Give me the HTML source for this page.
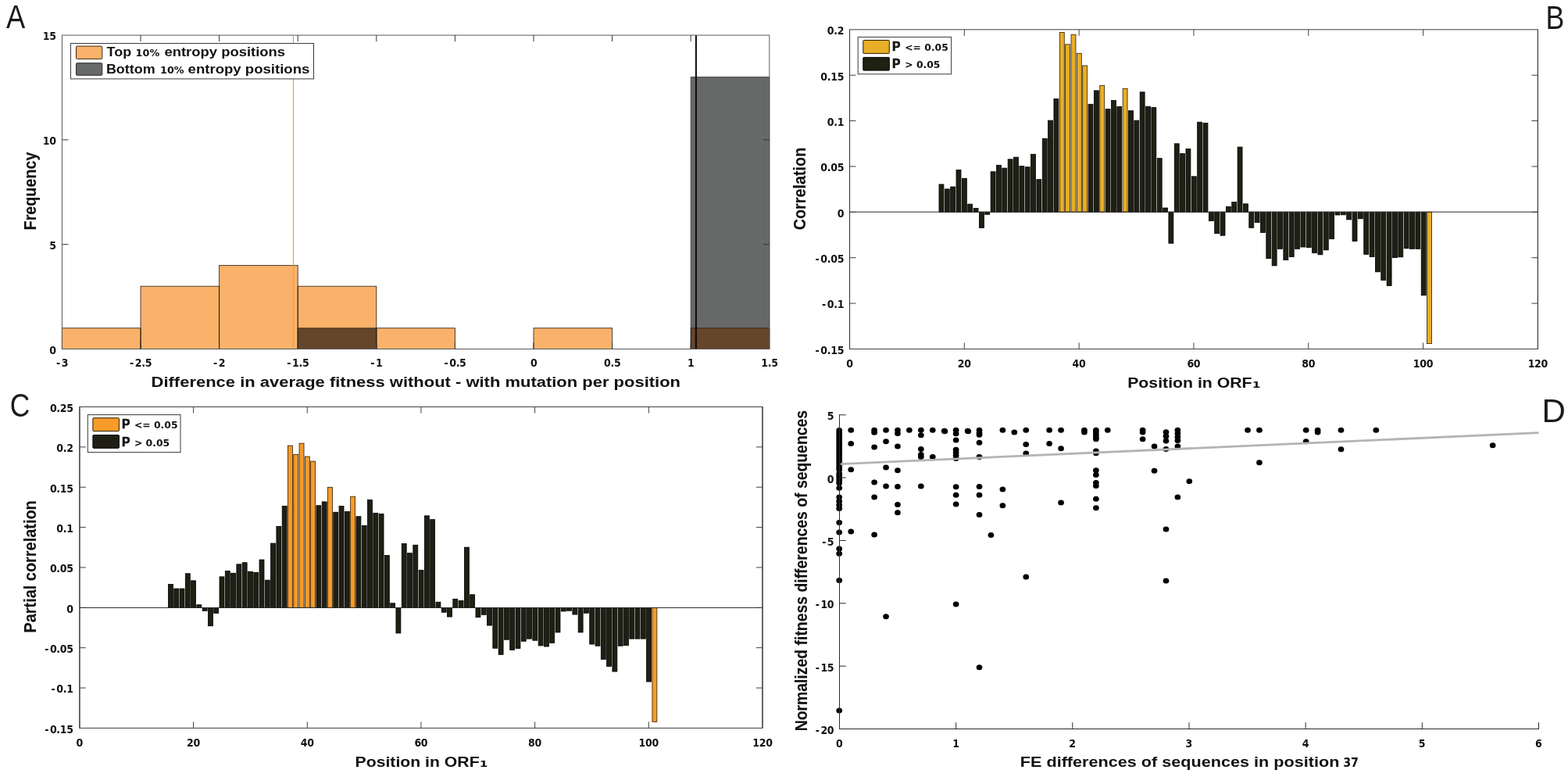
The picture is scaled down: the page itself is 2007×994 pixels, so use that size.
<!DOCTYPE html>
<html lang="en">
<head>
<meta charset="utf-8">
<title>Figure: entropy, correlation and fitness panels</title>
<style>
html,body{margin:0;padding:0;background:#fff;}
body{width:2007px;height:994px;overflow:hidden;}
svg{display:block;}
text{font-kerning:normal;}
</style>
</head>
<body>
<svg width="2007" height="994" viewBox="0 0 2007 994">
<rect x="0" y="0" width="2007" height="994" fill="#ffffff"/>
<g id="panelA">
<rect x="79.40" y="419.74" width="100.60" height="26.76" fill="#fab26a" stroke="none" stroke-width="1"/>
<rect x="180.00" y="366.21" width="100.60" height="80.29" fill="#fab26a" stroke="none" stroke-width="1"/>
<rect x="280.60" y="339.45" width="100.60" height="107.05" fill="#fab26a" stroke="none" stroke-width="1"/>
<rect x="381.20" y="366.21" width="100.60" height="80.29" fill="#fab26a" stroke="none" stroke-width="1"/>
<rect x="481.80" y="419.74" width="100.60" height="26.76" fill="#fab26a" stroke="none" stroke-width="1"/>
<rect x="683.00" y="419.74" width="100.60" height="26.76" fill="#fab26a" stroke="none" stroke-width="1"/>
<rect x="884.20" y="419.74" width="100.60" height="26.76" fill="#fab26a" stroke="none" stroke-width="1"/>
<rect x="884.20" y="98.58" width="100.60" height="321.16" fill="#676968" stroke="none" stroke-width="1"/>
<rect x="884.20" y="419.74" width="100.60" height="26.76" fill="#65462a" stroke="none" stroke-width="1"/>
<rect x="381.20" y="419.74" width="100.60" height="26.76" fill="#65462a" stroke="none" stroke-width="1"/>
<rect x="79.40" y="419.74" width="100.60" height="26.76" fill="none" stroke="#1a1206" stroke-width="0.9" stroke-opacity="0.85"/>
<rect x="180.00" y="366.21" width="100.60" height="80.29" fill="none" stroke="#1a1206" stroke-width="0.9" stroke-opacity="0.85"/>
<rect x="280.60" y="339.45" width="100.60" height="107.05" fill="none" stroke="#1a1206" stroke-width="0.9" stroke-opacity="0.85"/>
<rect x="381.20" y="366.21" width="100.60" height="80.29" fill="none" stroke="#1a1206" stroke-width="0.9" stroke-opacity="0.85"/>
<rect x="481.80" y="419.74" width="100.60" height="26.76" fill="none" stroke="#1a1206" stroke-width="0.9" stroke-opacity="0.85"/>
<rect x="683.00" y="419.74" width="100.60" height="26.76" fill="none" stroke="#1a1206" stroke-width="0.9" stroke-opacity="0.85"/>
<rect x="884.20" y="419.74" width="100.60" height="26.76" fill="none" stroke="#1a1206" stroke-width="0.9" stroke-opacity="0.85"/>
<rect x="884.20" y="98.58" width="100.60" height="347.92" fill="none" stroke="#222" stroke-width="0.9" stroke-opacity="0.8"/>
<rect x="381.20" y="419.74" width="100.60" height="26.76" fill="none" stroke="#222" stroke-width="0.9" stroke-opacity="0.8"/>
<line x1="375.50" y1="45.05" x2="375.50" y2="446.50" stroke="#f29a3a" stroke-width="1.2"/>
<line x1="890.90" y1="45.05" x2="890.90" y2="446.50" stroke="#0a0a0a" stroke-width="2"/>
<rect x="79.40" y="45.05" width="905.40" height="401.45" fill="none" stroke="#5a5a5a" stroke-width="1"/>
<text transform="translate(79.50 469.40) scale(0.9 1.04)" font-family='"DejaVu Sans", "Liberation Sans", sans-serif' font-size="14.0" font-weight="bold" text-anchor="middle" fill="#111" letter-spacing="-0.35">-<tspan dx="2.0">3</tspan></text>
<line x1="180.00" y1="446.50" x2="180.00" y2="438.50" stroke="#333" stroke-width="1"/>
<line x1="180.00" y1="45.05" x2="180.00" y2="53.05" stroke="#333" stroke-width="1"/>
<text transform="translate(180.10 469.40) scale(0.9 1.04)" font-family='"DejaVu Sans", "Liberation Sans", sans-serif' font-size="14.0" font-weight="bold" text-anchor="middle" fill="#111" letter-spacing="-0.35">-<tspan dx="2.0">2.5</tspan></text>
<line x1="280.60" y1="446.50" x2="280.60" y2="438.50" stroke="#333" stroke-width="1"/>
<line x1="280.60" y1="45.05" x2="280.60" y2="53.05" stroke="#333" stroke-width="1"/>
<text transform="translate(280.70 469.40) scale(0.9 1.04)" font-family='"DejaVu Sans", "Liberation Sans", sans-serif' font-size="14.0" font-weight="bold" text-anchor="middle" fill="#111" letter-spacing="-0.35">-<tspan dx="2.0">2</tspan></text>
<line x1="381.20" y1="446.50" x2="381.20" y2="438.50" stroke="#333" stroke-width="1"/>
<line x1="381.20" y1="45.05" x2="381.20" y2="53.05" stroke="#333" stroke-width="1"/>
<text transform="translate(381.30 469.40) scale(0.9 1.04)" font-family='"DejaVu Sans", "Liberation Sans", sans-serif' font-size="14.0" font-weight="bold" text-anchor="middle" fill="#111" letter-spacing="-0.35">-<tspan dx="2.0">1.5</tspan></text>
<line x1="481.80" y1="446.50" x2="481.80" y2="438.50" stroke="#333" stroke-width="1"/>
<line x1="481.80" y1="45.05" x2="481.80" y2="53.05" stroke="#333" stroke-width="1"/>
<text transform="translate(481.90 469.40) scale(0.9 1.04)" font-family='"DejaVu Sans", "Liberation Sans", sans-serif' font-size="14.0" font-weight="bold" text-anchor="middle" fill="#111" letter-spacing="-0.35">-<tspan dx="2.0">1</tspan></text>
<line x1="582.40" y1="446.50" x2="582.40" y2="438.50" stroke="#333" stroke-width="1"/>
<line x1="582.40" y1="45.05" x2="582.40" y2="53.05" stroke="#333" stroke-width="1"/>
<text transform="translate(582.50 469.40) scale(0.9 1.04)" font-family='"DejaVu Sans", "Liberation Sans", sans-serif' font-size="14.0" font-weight="bold" text-anchor="middle" fill="#111" letter-spacing="-0.35">-<tspan dx="2.0">0.5</tspan></text>
<line x1="683.00" y1="446.50" x2="683.00" y2="438.50" stroke="#333" stroke-width="1"/>
<line x1="683.00" y1="45.05" x2="683.00" y2="53.05" stroke="#333" stroke-width="1"/>
<text transform="translate(683.10 469.40) scale(0.9 1.04)" font-family='"DejaVu Sans", "Liberation Sans", sans-serif' font-size="14.0" font-weight="bold" text-anchor="middle" fill="#111" letter-spacing="-0.35">0</text>
<line x1="783.60" y1="446.50" x2="783.60" y2="438.50" stroke="#333" stroke-width="1"/>
<line x1="783.60" y1="45.05" x2="783.60" y2="53.05" stroke="#333" stroke-width="1"/>
<text transform="translate(783.70 469.40) scale(0.9 1.04)" font-family='"DejaVu Sans", "Liberation Sans", sans-serif' font-size="14.0" font-weight="bold" text-anchor="middle" fill="#111" letter-spacing="-0.35">0.5</text>
<line x1="884.20" y1="446.50" x2="884.20" y2="438.50" stroke="#333" stroke-width="1"/>
<line x1="884.20" y1="45.05" x2="884.20" y2="53.05" stroke="#333" stroke-width="1"/>
<text transform="translate(884.30 469.40) scale(0.9 1.04)" font-family='"DejaVu Sans", "Liberation Sans", sans-serif' font-size="14.0" font-weight="bold" text-anchor="middle" fill="#111" letter-spacing="-0.35">1</text>
<text transform="translate(984.90 469.40) scale(0.9 1.04)" font-family='"DejaVu Sans", "Liberation Sans", sans-serif' font-size="14.0" font-weight="bold" text-anchor="middle" fill="#111" letter-spacing="-0.35">1.5</text>
<text transform="translate(71.70 452.70) scale(0.9 1.04)" font-family='"DejaVu Sans", "Liberation Sans", sans-serif' font-size="14.0" font-weight="bold" text-anchor="end" fill="#111" letter-spacing="-0.35">0</text>
<line x1="79.40" y1="312.68" x2="87.40" y2="312.68" stroke="#333" stroke-width="1"/>
<line x1="984.80" y1="312.68" x2="976.80" y2="312.68" stroke="#333" stroke-width="1"/>
<text transform="translate(71.70 318.88) scale(0.9 1.04)" font-family='"DejaVu Sans", "Liberation Sans", sans-serif' font-size="14.0" font-weight="bold" text-anchor="end" fill="#111" letter-spacing="-0.35">5</text>
<line x1="79.40" y1="178.87" x2="87.40" y2="178.87" stroke="#333" stroke-width="1"/>
<line x1="984.80" y1="178.87" x2="976.80" y2="178.87" stroke="#333" stroke-width="1"/>
<text transform="translate(71.70 185.07) scale(0.9 1.04)" font-family='"DejaVu Sans", "Liberation Sans", sans-serif' font-size="14.0" font-weight="bold" text-anchor="end" fill="#111" letter-spacing="-0.35">10</text>
<text transform="translate(71.70 51.25) scale(0.9 1.04)" font-family='"DejaVu Sans", "Liberation Sans", sans-serif' font-size="14.0" font-weight="bold" text-anchor="end" fill="#111" letter-spacing="-0.35">15</text>
<rect x="90.50" y="55.50" width="311.00" height="45.40" fill="#fff" stroke="#3a3a3a" stroke-width="1"/>
<rect x="97.50" y="59.10" width="33.30" height="16.30" fill="#fab26a" stroke="#3a2a18" stroke-width="1" rx="1"/>
<rect x="97.50" y="80.70" width="33.30" height="15.60" fill="#676968" stroke="#2a2a2a" stroke-width="1" rx="1"/>
<text y="72.20" font-weight="bold" fill="#111"><tspan x="136.60" font-family='"Liberation Sans", sans-serif' font-size="17" textLength="31.50" lengthAdjust="spacingAndGlyphs">Top</tspan> <tspan x="173.60" font-family='"DejaVu Sans", "Liberation Sans", sans-serif' font-size="12.2" textLength="30.60" lengthAdjust="spacingAndGlyphs">10%</tspan> <tspan x="210.40" font-family='"Liberation Sans", sans-serif' font-size="17" textLength="154.70" lengthAdjust="spacingAndGlyphs">entropy positions</tspan></text>
<text y="93.90" font-weight="bold" fill="#111"><tspan x="135.90" font-family='"Liberation Sans", sans-serif' font-size="17" textLength="62.70" lengthAdjust="spacingAndGlyphs">Bottom</tspan> <tspan x="205.00" font-family='"DejaVu Sans", "Liberation Sans", sans-serif' font-size="12.2" textLength="30.60" lengthAdjust="spacingAndGlyphs">10%</tspan> <tspan x="240.60" font-family='"Liberation Sans", sans-serif' font-size="17" textLength="155.80" lengthAdjust="spacingAndGlyphs">entropy positions</tspan></text>
<text x="193.60" y="494.80" font-family='"Liberation Sans", sans-serif' font-size="18" font-weight="bold" text-anchor="start" fill="#111" textLength="677.40" lengthAdjust="spacingAndGlyphs">Difference in average fitness without - with mutation per position</text>
<text x="46.50" y="294.40" transform="rotate(-90 46.50 294.40)" font-family='"Liberation Sans", sans-serif' font-size="22.3" font-weight="bold" text-anchor="start" fill="#111" textLength="99.80" lengthAdjust="spacingAndGlyphs" stroke="#111" stroke-width="0.12">Frequency</text>
<text x="8.00" y="35.60" font-family='"Liberation Sans", sans-serif' font-size="42" font-weight="normal" text-anchor="start" fill="#1a1a1a" textLength="24.20" lengthAdjust="spacingAndGlyphs">A</text>
</g>
<g id="panelB">
<rect x="1201.99" y="235.90" width="5.95" height="35.30" fill="#1f1f13" stroke="#000" stroke-width="0.8"/>
<rect x="1209.34" y="241.90" width="5.95" height="29.30" fill="#1f1f13" stroke="#000" stroke-width="0.8"/>
<rect x="1216.69" y="239.00" width="5.95" height="32.20" fill="#1f1f13" stroke="#000" stroke-width="0.8"/>
<rect x="1224.04" y="217.30" width="5.95" height="53.90" fill="#1f1f13" stroke="#000" stroke-width="0.8"/>
<rect x="1231.39" y="228.20" width="5.95" height="43.00" fill="#1f1f13" stroke="#000" stroke-width="0.8"/>
<rect x="1238.73" y="261.10" width="5.95" height="10.10" fill="#1f1f13" stroke="#000" stroke-width="0.8"/>
<rect x="1246.08" y="266.40" width="5.95" height="4.80" fill="#1f1f13" stroke="#000" stroke-width="0.8"/>
<rect x="1253.43" y="271.20" width="5.95" height="20.20" fill="#1f1f13" stroke="#000" stroke-width="0.8"/>
<rect x="1260.78" y="271.20" width="5.95" height="3.10" fill="#1f1f13" stroke="#000" stroke-width="0.8"/>
<rect x="1268.13" y="219.70" width="5.95" height="51.50" fill="#1f1f13" stroke="#000" stroke-width="0.8"/>
<rect x="1275.47" y="211.30" width="5.95" height="59.90" fill="#1f1f13" stroke="#000" stroke-width="0.8"/>
<rect x="1282.82" y="215.10" width="5.95" height="56.10" fill="#1f1f13" stroke="#000" stroke-width="0.8"/>
<rect x="1290.17" y="203.80" width="5.95" height="67.40" fill="#1f1f13" stroke="#000" stroke-width="0.8"/>
<rect x="1297.52" y="201.10" width="5.95" height="70.10" fill="#1f1f13" stroke="#000" stroke-width="0.8"/>
<rect x="1304.87" y="212.50" width="5.95" height="58.70" fill="#1f1f13" stroke="#000" stroke-width="0.8"/>
<rect x="1312.21" y="213.70" width="5.95" height="57.50" fill="#1f1f13" stroke="#000" stroke-width="0.8"/>
<rect x="1319.56" y="197.30" width="5.95" height="73.90" fill="#1f1f13" stroke="#000" stroke-width="0.8"/>
<rect x="1326.91" y="229.60" width="5.95" height="41.60" fill="#1f1f13" stroke="#000" stroke-width="0.8"/>
<rect x="1334.26" y="177.20" width="5.95" height="94.00" fill="#1f1f13" stroke="#000" stroke-width="0.8"/>
<rect x="1341.61" y="154.10" width="5.95" height="117.10" fill="#1f1f13" stroke="#000" stroke-width="0.8"/>
<rect x="1348.95" y="126.50" width="5.95" height="144.70" fill="#1f1f13" stroke="#000" stroke-width="0.8"/>
<rect x="1356.30" y="41.50" width="5.95" height="229.70" fill="#e8ae27" stroke="#2b1c00" stroke-width="0.8"/>
<rect x="1363.65" y="56.80" width="5.95" height="214.40" fill="#e8ae27" stroke="#2b1c00" stroke-width="0.8"/>
<rect x="1371.00" y="44.20" width="5.95" height="227.00" fill="#e8ae27" stroke="#2b1c00" stroke-width="0.8"/>
<rect x="1378.35" y="68.30" width="5.95" height="202.90" fill="#e8ae27" stroke="#2b1c00" stroke-width="0.8"/>
<rect x="1385.69" y="84.00" width="5.95" height="187.20" fill="#e8ae27" stroke="#2b1c00" stroke-width="0.8"/>
<rect x="1393.04" y="133.30" width="5.95" height="137.90" fill="#1f1f13" stroke="#000" stroke-width="0.8"/>
<rect x="1400.39" y="115.90" width="5.95" height="155.30" fill="#1f1f13" stroke="#000" stroke-width="0.8"/>
<rect x="1407.74" y="109.40" width="5.95" height="161.80" fill="#e8ae27" stroke="#2b1c00" stroke-width="0.8"/>
<rect x="1415.09" y="139.60" width="5.95" height="131.60" fill="#1f1f13" stroke="#000" stroke-width="0.8"/>
<rect x="1422.43" y="128.50" width="5.95" height="142.70" fill="#1f1f13" stroke="#000" stroke-width="0.8"/>
<rect x="1429.78" y="136.40" width="5.95" height="134.80" fill="#1f1f13" stroke="#000" stroke-width="0.8"/>
<rect x="1437.13" y="113.30" width="5.95" height="157.90" fill="#e8ae27" stroke="#2b1c00" stroke-width="0.8"/>
<rect x="1444.48" y="141.70" width="5.95" height="129.50" fill="#1f1f13" stroke="#000" stroke-width="0.8"/>
<rect x="1451.83" y="154.10" width="5.95" height="117.10" fill="#1f1f13" stroke="#000" stroke-width="0.8"/>
<rect x="1459.17" y="117.80" width="5.95" height="153.40" fill="#1f1f13" stroke="#000" stroke-width="0.8"/>
<rect x="1466.52" y="136.20" width="5.95" height="135.00" fill="#1f1f13" stroke="#000" stroke-width="0.8"/>
<rect x="1473.87" y="137.60" width="5.95" height="133.60" fill="#1f1f13" stroke="#000" stroke-width="0.8"/>
<rect x="1481.22" y="202.60" width="5.95" height="68.60" fill="#1f1f13" stroke="#000" stroke-width="0.8"/>
<rect x="1488.57" y="266.00" width="5.95" height="5.20" fill="#1f1f13" stroke="#000" stroke-width="0.8"/>
<rect x="1495.91" y="271.20" width="5.95" height="40.00" fill="#1f1f13" stroke="#000" stroke-width="0.8"/>
<rect x="1503.26" y="183.80" width="5.95" height="87.40" fill="#1f1f13" stroke="#000" stroke-width="0.8"/>
<rect x="1510.61" y="196.60" width="5.95" height="74.60" fill="#1f1f13" stroke="#000" stroke-width="0.8"/>
<rect x="1517.96" y="190.50" width="5.95" height="80.70" fill="#1f1f13" stroke="#000" stroke-width="0.8"/>
<rect x="1525.31" y="225.80" width="5.95" height="45.40" fill="#1f1f13" stroke="#000" stroke-width="0.8"/>
<rect x="1532.65" y="156.20" width="5.95" height="115.00" fill="#1f1f13" stroke="#000" stroke-width="0.8"/>
<rect x="1540.00" y="157.40" width="5.95" height="113.80" fill="#1f1f13" stroke="#000" stroke-width="0.8"/>
<rect x="1547.35" y="271.20" width="5.95" height="11.40" fill="#1f1f13" stroke="#000" stroke-width="0.8"/>
<rect x="1554.70" y="271.20" width="5.95" height="27.50" fill="#1f1f13" stroke="#000" stroke-width="0.8"/>
<rect x="1562.05" y="271.20" width="5.95" height="30.00" fill="#1f1f13" stroke="#000" stroke-width="0.8"/>
<rect x="1569.39" y="264.50" width="5.95" height="6.70" fill="#1f1f13" stroke="#000" stroke-width="0.8"/>
<rect x="1576.74" y="258.40" width="5.95" height="12.80" fill="#1f1f13" stroke="#000" stroke-width="0.8"/>
<rect x="1584.09" y="188.10" width="5.95" height="83.10" fill="#1f1f13" stroke="#000" stroke-width="0.8"/>
<rect x="1591.44" y="260.80" width="5.95" height="10.40" fill="#1f1f13" stroke="#000" stroke-width="0.8"/>
<rect x="1598.79" y="271.20" width="5.95" height="20.10" fill="#1f1f13" stroke="#000" stroke-width="0.8"/>
<rect x="1606.13" y="271.20" width="5.95" height="13.40" fill="#1f1f13" stroke="#000" stroke-width="0.8"/>
<rect x="1613.48" y="271.20" width="5.95" height="26.20" fill="#1f1f13" stroke="#000" stroke-width="0.8"/>
<rect x="1620.83" y="271.20" width="5.95" height="59.50" fill="#1f1f13" stroke="#000" stroke-width="0.8"/>
<rect x="1628.18" y="271.20" width="5.95" height="68.70" fill="#1f1f13" stroke="#000" stroke-width="0.8"/>
<rect x="1635.53" y="271.20" width="5.95" height="47.10" fill="#1f1f13" stroke="#000" stroke-width="0.8"/>
<rect x="1642.87" y="271.20" width="5.95" height="61.40" fill="#1f1f13" stroke="#000" stroke-width="0.8"/>
<rect x="1650.22" y="271.20" width="5.95" height="57.30" fill="#1f1f13" stroke="#000" stroke-width="0.8"/>
<rect x="1657.57" y="271.20" width="5.95" height="47.10" fill="#1f1f13" stroke="#000" stroke-width="0.8"/>
<rect x="1664.92" y="271.20" width="5.95" height="44.80" fill="#1f1f13" stroke="#000" stroke-width="0.8"/>
<rect x="1672.27" y="271.20" width="5.95" height="45.40" fill="#1f1f13" stroke="#000" stroke-width="0.8"/>
<rect x="1679.61" y="271.20" width="5.95" height="52.30" fill="#1f1f13" stroke="#000" stroke-width="0.8"/>
<rect x="1686.96" y="271.20" width="5.95" height="54.60" fill="#1f1f13" stroke="#000" stroke-width="0.8"/>
<rect x="1694.31" y="271.20" width="5.95" height="48.60" fill="#1f1f13" stroke="#000" stroke-width="0.8"/>
<rect x="1701.66" y="271.20" width="5.95" height="34.50" fill="#1f1f13" stroke="#000" stroke-width="0.8"/>
<rect x="1709.01" y="271.20" width="5.95" height="3.80" fill="#1f1f13" stroke="#000" stroke-width="0.8"/>
<rect x="1716.35" y="271.20" width="5.95" height="3.60" fill="#1f1f13" stroke="#000" stroke-width="0.8"/>
<rect x="1723.70" y="271.20" width="5.95" height="9.70" fill="#1f1f13" stroke="#000" stroke-width="0.8"/>
<rect x="1731.05" y="271.20" width="5.95" height="37.30" fill="#1f1f13" stroke="#000" stroke-width="0.8"/>
<rect x="1738.40" y="271.20" width="5.95" height="8.60" fill="#1f1f13" stroke="#000" stroke-width="0.8"/>
<rect x="1745.75" y="271.20" width="5.95" height="54.10" fill="#1f1f13" stroke="#000" stroke-width="0.8"/>
<rect x="1753.09" y="271.20" width="5.95" height="57.30" fill="#1f1f13" stroke="#000" stroke-width="0.8"/>
<rect x="1760.44" y="271.20" width="5.95" height="76.60" fill="#1f1f13" stroke="#000" stroke-width="0.8"/>
<rect x="1767.79" y="271.20" width="5.95" height="87.20" fill="#1f1f13" stroke="#000" stroke-width="0.8"/>
<rect x="1775.14" y="271.20" width="5.95" height="94.30" fill="#1f1f13" stroke="#000" stroke-width="0.8"/>
<rect x="1782.49" y="271.20" width="5.95" height="58.40" fill="#1f1f13" stroke="#000" stroke-width="0.8"/>
<rect x="1789.83" y="271.20" width="5.95" height="57.60" fill="#1f1f13" stroke="#000" stroke-width="0.8"/>
<rect x="1797.18" y="271.20" width="5.95" height="46.60" fill="#1f1f13" stroke="#000" stroke-width="0.8"/>
<rect x="1804.53" y="271.20" width="5.95" height="47.10" fill="#1f1f13" stroke="#000" stroke-width="0.8"/>
<rect x="1811.88" y="271.20" width="5.95" height="47.10" fill="#1f1f13" stroke="#000" stroke-width="0.8"/>
<rect x="1819.23" y="271.20" width="5.95" height="106.60" fill="#1f1f13" stroke="#000" stroke-width="0.8"/>
<rect x="1826.57" y="271.20" width="5.95" height="168.40" fill="#e8ae27" stroke="#2b1c00" stroke-width="0.8"/>
<line x1="1087.50" y1="271.20" x2="1968.40" y2="271.20" stroke="#2a2a2a" stroke-width="1"/>
<rect x="1087.50" y="37.85" width="880.90" height="408.60" fill="none" stroke="#404040" stroke-width="1"/>
<line x1="1087.50" y1="37.85" x2="1087.50" y2="446.45" stroke="#404040" stroke-width="1.2"/>
<line x1="1968.40" y1="37.85" x2="1968.40" y2="446.45" stroke="#404040" stroke-width="1.2"/>
<text transform="translate(1087.40 470.00) scale(0.9 1.04)" font-family='"DejaVu Sans", "Liberation Sans", sans-serif' font-size="14.0" font-weight="bold" text-anchor="middle" fill="#111" letter-spacing="-0.35">0</text>
<line x1="1234.32" y1="446.45" x2="1234.32" y2="438.45" stroke="#404040" stroke-width="1"/>
<line x1="1234.32" y1="37.85" x2="1234.32" y2="45.85" stroke="#404040" stroke-width="1"/>
<text transform="translate(1234.22 470.00) scale(0.9 1.04)" font-family='"DejaVu Sans", "Liberation Sans", sans-serif' font-size="14.0" font-weight="bold" text-anchor="middle" fill="#111" letter-spacing="-0.35">20</text>
<line x1="1381.13" y1="446.45" x2="1381.13" y2="438.45" stroke="#404040" stroke-width="1"/>
<line x1="1381.13" y1="37.85" x2="1381.13" y2="45.85" stroke="#404040" stroke-width="1"/>
<text transform="translate(1381.03 470.00) scale(0.9 1.04)" font-family='"DejaVu Sans", "Liberation Sans", sans-serif' font-size="14.0" font-weight="bold" text-anchor="middle" fill="#111" letter-spacing="-0.35">40</text>
<line x1="1527.95" y1="446.45" x2="1527.95" y2="438.45" stroke="#404040" stroke-width="1"/>
<line x1="1527.95" y1="37.85" x2="1527.95" y2="45.85" stroke="#404040" stroke-width="1"/>
<text transform="translate(1527.85 470.00) scale(0.9 1.04)" font-family='"DejaVu Sans", "Liberation Sans", sans-serif' font-size="14.0" font-weight="bold" text-anchor="middle" fill="#111" letter-spacing="-0.35">60</text>
<line x1="1674.77" y1="446.45" x2="1674.77" y2="438.45" stroke="#404040" stroke-width="1"/>
<line x1="1674.77" y1="37.85" x2="1674.77" y2="45.85" stroke="#404040" stroke-width="1"/>
<text transform="translate(1674.67 470.00) scale(0.9 1.04)" font-family='"DejaVu Sans", "Liberation Sans", sans-serif' font-size="14.0" font-weight="bold" text-anchor="middle" fill="#111" letter-spacing="-0.35">80</text>
<line x1="1821.58" y1="446.45" x2="1821.58" y2="438.45" stroke="#404040" stroke-width="1"/>
<line x1="1821.58" y1="37.85" x2="1821.58" y2="45.85" stroke="#404040" stroke-width="1"/>
<text transform="translate(1821.48 470.00) scale(0.9 1.04)" font-family='"DejaVu Sans", "Liberation Sans", sans-serif' font-size="14.0" font-weight="bold" text-anchor="middle" fill="#111" letter-spacing="-0.35">100</text>
<text transform="translate(1968.30 470.00) scale(0.9 1.04)" font-family='"DejaVu Sans", "Liberation Sans", sans-serif' font-size="14.0" font-weight="bold" text-anchor="middle" fill="#111" letter-spacing="-0.35">120</text>
<text transform="translate(1080.10 44.15) scale(0.9 1.04)" font-family='"DejaVu Sans", "Liberation Sans", sans-serif' font-size="14.0" font-weight="bold" text-anchor="end" fill="#111" letter-spacing="-0.35">0.2</text>
<line x1="1087.50" y1="96.22" x2="1095.50" y2="96.22" stroke="#404040" stroke-width="1"/>
<line x1="1968.40" y1="96.22" x2="1960.40" y2="96.22" stroke="#404040" stroke-width="1"/>
<text transform="translate(1080.10 102.52) scale(0.9 1.04)" font-family='"DejaVu Sans", "Liberation Sans", sans-serif' font-size="14.0" font-weight="bold" text-anchor="end" fill="#111" letter-spacing="-0.35">0.15</text>
<line x1="1087.50" y1="154.59" x2="1095.50" y2="154.59" stroke="#404040" stroke-width="1"/>
<line x1="1968.40" y1="154.59" x2="1960.40" y2="154.59" stroke="#404040" stroke-width="1"/>
<text transform="translate(1080.10 160.89) scale(0.9 1.04)" font-family='"DejaVu Sans", "Liberation Sans", sans-serif' font-size="14.0" font-weight="bold" text-anchor="end" fill="#111" letter-spacing="-0.35">0.1</text>
<line x1="1087.50" y1="212.96" x2="1095.50" y2="212.96" stroke="#404040" stroke-width="1"/>
<line x1="1968.40" y1="212.96" x2="1960.40" y2="212.96" stroke="#404040" stroke-width="1"/>
<text transform="translate(1080.10 219.26) scale(0.9 1.04)" font-family='"DejaVu Sans", "Liberation Sans", sans-serif' font-size="14.0" font-weight="bold" text-anchor="end" fill="#111" letter-spacing="-0.35">0.05</text>
<line x1="1087.50" y1="271.34" x2="1095.50" y2="271.34" stroke="#404040" stroke-width="1"/>
<line x1="1968.40" y1="271.34" x2="1960.40" y2="271.34" stroke="#404040" stroke-width="1"/>
<text transform="translate(1080.10 277.64) scale(0.9 1.04)" font-family='"DejaVu Sans", "Liberation Sans", sans-serif' font-size="14.0" font-weight="bold" text-anchor="end" fill="#111" letter-spacing="-0.35">0</text>
<line x1="1087.50" y1="329.71" x2="1095.50" y2="329.71" stroke="#404040" stroke-width="1"/>
<line x1="1968.40" y1="329.71" x2="1960.40" y2="329.71" stroke="#404040" stroke-width="1"/>
<text transform="translate(1080.10 336.01) scale(0.9 1.04)" font-family='"DejaVu Sans", "Liberation Sans", sans-serif' font-size="14.0" font-weight="bold" text-anchor="end" fill="#111" letter-spacing="-0.35">-<tspan dx="2.0">0.05</tspan></text>
<line x1="1087.50" y1="388.08" x2="1095.50" y2="388.08" stroke="#404040" stroke-width="1"/>
<line x1="1968.40" y1="388.08" x2="1960.40" y2="388.08" stroke="#404040" stroke-width="1"/>
<text transform="translate(1080.10 394.38) scale(0.9 1.04)" font-family='"DejaVu Sans", "Liberation Sans", sans-serif' font-size="14.0" font-weight="bold" text-anchor="end" fill="#111" letter-spacing="-0.35">-<tspan dx="2.0">0.1</tspan></text>
<text transform="translate(1080.10 452.75) scale(0.9 1.04)" font-family='"DejaVu Sans", "Liberation Sans", sans-serif' font-size="14.0" font-weight="bold" text-anchor="end" fill="#111" letter-spacing="-0.35">-<tspan dx="2.0">0.15</tspan></text>
<rect x="1098.20" y="47.40" width="119.40" height="47.40" fill="#fff" stroke="#3a3a3a" stroke-width="1"/>
<rect x="1104.80" y="51.50" width="33.50" height="16.90" fill="#e8ae27" stroke="#2b1c00" stroke-width="1" rx="0.7"/>
<rect x="1104.80" y="73.40" width="33.50" height="16.70" fill="#1f1f13" stroke="#000" stroke-width="1" rx="0.7"/>
<text y="64.90" font-weight="bold" fill="#111"><tspan x="1141.90" font-family='"Liberation Sans", sans-serif' font-size="16" textLength="10.40" lengthAdjust="spacingAndGlyphs" stroke="#111" stroke-width="0.7">P</tspan> <tspan x="1158.20" font-family='"DejaVu Sans", "Liberation Sans", sans-serif' font-size="12.4" textLength="55.66" lengthAdjust="spacingAndGlyphs">&lt;= 0.05</tspan></text>
<text y="87.30" font-weight="bold" fill="#111"><tspan x="1141.90" font-family='"Liberation Sans", sans-serif' font-size="16" textLength="10.40" lengthAdjust="spacingAndGlyphs" stroke="#111" stroke-width="0.7">P</tspan> <tspan x="1158.20" font-family='"DejaVu Sans", "Liberation Sans", sans-serif' font-size="12.4" textLength="45.28" lengthAdjust="spacingAndGlyphs">&gt; 0.05</tspan></text>
<text x="1031.30" y="294.30" transform="rotate(-90 1031.30 294.30)" font-family='"Liberation Sans", sans-serif' font-size="22.3" font-weight="bold" text-anchor="start" fill="#111" textLength="105.60" lengthAdjust="spacingAndGlyphs" stroke="#111" stroke-width="0.12">Correlation</text>
<text y="496.00" font-weight="bold" fill="#111"><tspan x="1443.20" font-family='"Liberation Sans", sans-serif' font-size="18" textLength="159.40" lengthAdjust="spacingAndGlyphs">Position in ORF</tspan><tspan x="1602.80" font-family='"DejaVu Sans", "Liberation Sans", sans-serif' font-size="9.6" textLength="10.7" lengthAdjust="spacingAndGlyphs">1</tspan></text>
<text x="1978.40" y="36.80" font-family='"Liberation Sans", sans-serif' font-size="42" font-weight="normal" text-anchor="start" fill="#1a1a1a" textLength="23.80" lengthAdjust="spacingAndGlyphs">B</text>
</g>
<g id="panelC">
<rect x="215.43" y="747.45" width="5.95" height="30.00" fill="#1f1f13" stroke="#000" stroke-width="0.8"/>
<rect x="222.72" y="753.05" width="5.95" height="24.40" fill="#1f1f13" stroke="#000" stroke-width="0.8"/>
<rect x="230.01" y="753.05" width="5.95" height="24.40" fill="#1f1f13" stroke="#000" stroke-width="0.8"/>
<rect x="237.30" y="733.75" width="5.95" height="43.70" fill="#1f1f13" stroke="#000" stroke-width="0.8"/>
<rect x="244.59" y="742.85" width="5.95" height="34.60" fill="#1f1f13" stroke="#000" stroke-width="0.8"/>
<rect x="251.87" y="773.75" width="5.95" height="3.70" fill="#1f1f13" stroke="#000" stroke-width="0.8"/>
<rect x="259.16" y="777.45" width="5.95" height="3.90" fill="#1f1f13" stroke="#000" stroke-width="0.8"/>
<rect x="266.45" y="777.45" width="5.95" height="23.30" fill="#1f1f13" stroke="#000" stroke-width="0.8"/>
<rect x="273.74" y="777.45" width="5.95" height="6.90" fill="#1f1f13" stroke="#000" stroke-width="0.8"/>
<rect x="281.02" y="737.85" width="5.95" height="39.60" fill="#1f1f13" stroke="#000" stroke-width="0.8"/>
<rect x="288.31" y="730.55" width="5.95" height="46.90" fill="#1f1f13" stroke="#000" stroke-width="0.8"/>
<rect x="295.60" y="733.25" width="5.95" height="44.20" fill="#1f1f13" stroke="#000" stroke-width="0.8"/>
<rect x="302.89" y="721.85" width="5.95" height="55.60" fill="#1f1f13" stroke="#000" stroke-width="0.8"/>
<rect x="310.18" y="719.75" width="5.95" height="57.70" fill="#1f1f13" stroke="#000" stroke-width="0.8"/>
<rect x="317.46" y="731.25" width="5.95" height="46.20" fill="#1f1f13" stroke="#000" stroke-width="0.8"/>
<rect x="324.75" y="732.25" width="5.95" height="45.20" fill="#1f1f13" stroke="#000" stroke-width="0.8"/>
<rect x="332.04" y="716.05" width="5.95" height="61.40" fill="#1f1f13" stroke="#000" stroke-width="0.8"/>
<rect x="339.33" y="742.15" width="5.95" height="35.30" fill="#1f1f13" stroke="#000" stroke-width="0.8"/>
<rect x="346.62" y="695.05" width="5.95" height="82.40" fill="#1f1f13" stroke="#000" stroke-width="0.8"/>
<rect x="353.90" y="673.35" width="5.95" height="104.10" fill="#1f1f13" stroke="#000" stroke-width="0.8"/>
<rect x="361.19" y="647.55" width="5.95" height="129.90" fill="#1f1f13" stroke="#000" stroke-width="0.8"/>
<rect x="368.48" y="570.05" width="5.95" height="207.40" fill="#f79b2a" stroke="#2b1c00" stroke-width="0.8"/>
<rect x="375.77" y="581.55" width="5.95" height="195.90" fill="#f79b2a" stroke="#2b1c00" stroke-width="0.8"/>
<rect x="383.06" y="567.15" width="5.95" height="210.30" fill="#f79b2a" stroke="#2b1c00" stroke-width="0.8"/>
<rect x="390.34" y="584.05" width="5.95" height="193.40" fill="#f79b2a" stroke="#2b1c00" stroke-width="0.8"/>
<rect x="397.63" y="590.05" width="5.95" height="187.40" fill="#f79b2a" stroke="#2b1c00" stroke-width="0.8"/>
<rect x="404.92" y="646.75" width="5.95" height="130.70" fill="#1f1f13" stroke="#000" stroke-width="0.8"/>
<rect x="412.21" y="641.95" width="5.95" height="135.50" fill="#1f1f13" stroke="#000" stroke-width="0.8"/>
<rect x="419.50" y="623.35" width="5.95" height="154.10" fill="#f79b2a" stroke="#2b1c00" stroke-width="0.8"/>
<rect x="426.79" y="655.25" width="5.95" height="122.20" fill="#1f1f13" stroke="#000" stroke-width="0.8"/>
<rect x="434.07" y="647.55" width="5.95" height="129.90" fill="#1f1f13" stroke="#000" stroke-width="0.8"/>
<rect x="441.36" y="654.55" width="5.95" height="122.90" fill="#1f1f13" stroke="#000" stroke-width="0.8"/>
<rect x="448.65" y="635.15" width="5.95" height="142.30" fill="#f79b2a" stroke="#2b1c00" stroke-width="0.8"/>
<rect x="455.94" y="660.75" width="5.95" height="116.70" fill="#1f1f13" stroke="#000" stroke-width="0.8"/>
<rect x="463.23" y="672.35" width="5.95" height="105.10" fill="#1f1f13" stroke="#000" stroke-width="0.8"/>
<rect x="470.51" y="639.55" width="5.95" height="137.90" fill="#1f1f13" stroke="#000" stroke-width="0.8"/>
<rect x="477.80" y="656.45" width="5.95" height="121.00" fill="#1f1f13" stroke="#000" stroke-width="0.8"/>
<rect x="485.09" y="657.45" width="5.95" height="120.00" fill="#1f1f13" stroke="#000" stroke-width="0.8"/>
<rect x="492.38" y="710.55" width="5.95" height="66.90" fill="#1f1f13" stroke="#000" stroke-width="0.8"/>
<rect x="499.67" y="771.75" width="5.95" height="5.70" fill="#1f1f13" stroke="#000" stroke-width="0.8"/>
<rect x="506.95" y="777.45" width="5.95" height="32.50" fill="#1f1f13" stroke="#000" stroke-width="0.8"/>
<rect x="514.24" y="695.55" width="5.95" height="81.90" fill="#1f1f13" stroke="#000" stroke-width="0.8"/>
<rect x="521.53" y="707.65" width="5.95" height="69.80" fill="#1f1f13" stroke="#000" stroke-width="0.8"/>
<rect x="528.82" y="697.25" width="5.95" height="80.20" fill="#1f1f13" stroke="#000" stroke-width="0.8"/>
<rect x="536.11" y="729.35" width="5.95" height="48.10" fill="#1f1f13" stroke="#000" stroke-width="0.8"/>
<rect x="543.39" y="659.85" width="5.95" height="117.60" fill="#1f1f13" stroke="#000" stroke-width="0.8"/>
<rect x="550.68" y="664.65" width="5.95" height="112.80" fill="#1f1f13" stroke="#000" stroke-width="0.8"/>
<rect x="557.97" y="770.25" width="5.95" height="7.20" fill="#1f1f13" stroke="#000" stroke-width="0.8"/>
<rect x="565.26" y="777.45" width="5.95" height="5.80" fill="#1f1f13" stroke="#000" stroke-width="0.8"/>
<rect x="572.54" y="777.45" width="5.95" height="11.60" fill="#1f1f13" stroke="#000" stroke-width="0.8"/>
<rect x="579.83" y="766.35" width="5.95" height="11.10" fill="#1f1f13" stroke="#000" stroke-width="0.8"/>
<rect x="587.12" y="768.45" width="5.95" height="9.00" fill="#1f1f13" stroke="#000" stroke-width="0.8"/>
<rect x="594.41" y="700.15" width="5.95" height="77.30" fill="#1f1f13" stroke="#000" stroke-width="0.8"/>
<rect x="601.70" y="760.75" width="5.95" height="16.70" fill="#1f1f13" stroke="#000" stroke-width="0.8"/>
<rect x="608.99" y="777.45" width="5.95" height="12.20" fill="#1f1f13" stroke="#000" stroke-width="0.8"/>
<rect x="616.27" y="777.45" width="5.95" height="8.90" fill="#1f1f13" stroke="#000" stroke-width="0.8"/>
<rect x="623.56" y="777.45" width="5.95" height="22.60" fill="#1f1f13" stroke="#000" stroke-width="0.8"/>
<rect x="630.85" y="777.45" width="5.95" height="51.80" fill="#1f1f13" stroke="#000" stroke-width="0.8"/>
<rect x="638.14" y="777.45" width="5.95" height="59.90" fill="#1f1f13" stroke="#000" stroke-width="0.8"/>
<rect x="645.42" y="777.45" width="5.95" height="40.80" fill="#1f1f13" stroke="#000" stroke-width="0.8"/>
<rect x="652.71" y="777.45" width="5.95" height="54.10" fill="#1f1f13" stroke="#000" stroke-width="0.8"/>
<rect x="660.00" y="777.45" width="5.95" height="52.10" fill="#1f1f13" stroke="#000" stroke-width="0.8"/>
<rect x="667.29" y="777.45" width="5.95" height="42.80" fill="#1f1f13" stroke="#000" stroke-width="0.8"/>
<rect x="674.58" y="777.45" width="5.95" height="39.70" fill="#1f1f13" stroke="#000" stroke-width="0.8"/>
<rect x="681.86" y="777.45" width="5.95" height="41.80" fill="#1f1f13" stroke="#000" stroke-width="0.8"/>
<rect x="689.15" y="777.45" width="5.95" height="48.50" fill="#1f1f13" stroke="#000" stroke-width="0.8"/>
<rect x="696.44" y="777.45" width="5.95" height="49.60" fill="#1f1f13" stroke="#000" stroke-width="0.8"/>
<rect x="703.73" y="777.45" width="5.95" height="45.10" fill="#1f1f13" stroke="#000" stroke-width="0.8"/>
<rect x="711.02" y="777.45" width="5.95" height="31.50" fill="#1f1f13" stroke="#000" stroke-width="0.8"/>
<rect x="718.30" y="777.45" width="5.95" height="4.50" fill="#1f1f13" stroke="#000" stroke-width="0.8"/>
<rect x="725.59" y="777.45" width="5.95" height="3.80" fill="#1f1f13" stroke="#000" stroke-width="0.8"/>
<rect x="732.88" y="777.45" width="5.95" height="8.60" fill="#1f1f13" stroke="#000" stroke-width="0.8"/>
<rect x="740.17" y="777.45" width="5.95" height="31.50" fill="#1f1f13" stroke="#000" stroke-width="0.8"/>
<rect x="747.46" y="777.45" width="5.95" height="6.80" fill="#1f1f13" stroke="#000" stroke-width="0.8"/>
<rect x="754.75" y="777.45" width="5.95" height="46.60" fill="#1f1f13" stroke="#000" stroke-width="0.8"/>
<rect x="762.03" y="777.45" width="5.95" height="48.80" fill="#1f1f13" stroke="#000" stroke-width="0.8"/>
<rect x="769.32" y="777.45" width="5.95" height="65.90" fill="#1f1f13" stroke="#000" stroke-width="0.8"/>
<rect x="776.61" y="777.45" width="5.95" height="75.00" fill="#1f1f13" stroke="#000" stroke-width="0.8"/>
<rect x="783.90" y="777.45" width="5.95" height="81.60" fill="#1f1f13" stroke="#000" stroke-width="0.8"/>
<rect x="791.18" y="777.45" width="5.95" height="48.80" fill="#1f1f13" stroke="#000" stroke-width="0.8"/>
<rect x="798.47" y="777.45" width="5.95" height="48.30" fill="#1f1f13" stroke="#000" stroke-width="0.8"/>
<rect x="805.76" y="777.45" width="5.95" height="39.70" fill="#1f1f13" stroke="#000" stroke-width="0.8"/>
<rect x="813.05" y="777.45" width="5.95" height="39.70" fill="#1f1f13" stroke="#000" stroke-width="0.8"/>
<rect x="820.34" y="777.45" width="5.95" height="39.70" fill="#1f1f13" stroke="#000" stroke-width="0.8"/>
<rect x="827.62" y="777.45" width="5.95" height="94.60" fill="#1f1f13" stroke="#000" stroke-width="0.8"/>
<rect x="834.91" y="777.45" width="5.95" height="145.90" fill="#f79b2a" stroke="#2b1c00" stroke-width="0.8"/>
<line x1="101.90" y1="777.45" x2="976.00" y2="777.45" stroke="#2a2a2a" stroke-width="1"/>
<rect x="101.90" y="520.50" width="874.10" height="410.90" fill="none" stroke="#404040" stroke-width="1"/>
<line x1="101.90" y1="520.50" x2="101.90" y2="931.40" stroke="#404040" stroke-width="1.2"/>
<line x1="976.00" y1="520.50" x2="976.00" y2="931.40" stroke="#404040" stroke-width="1.2"/>
<text transform="translate(101.80 955.20) scale(0.9 1.04)" font-family='"DejaVu Sans", "Liberation Sans", sans-serif' font-size="14.0" font-weight="bold" text-anchor="middle" fill="#111" letter-spacing="-0.35">0</text>
<line x1="247.58" y1="931.40" x2="247.58" y2="923.40" stroke="#404040" stroke-width="1"/>
<line x1="247.58" y1="520.50" x2="247.58" y2="528.50" stroke="#404040" stroke-width="1"/>
<text transform="translate(247.48 955.20) scale(0.9 1.04)" font-family='"DejaVu Sans", "Liberation Sans", sans-serif' font-size="14.0" font-weight="bold" text-anchor="middle" fill="#111" letter-spacing="-0.35">20</text>
<line x1="393.27" y1="931.40" x2="393.27" y2="923.40" stroke="#404040" stroke-width="1"/>
<line x1="393.27" y1="520.50" x2="393.27" y2="528.50" stroke="#404040" stroke-width="1"/>
<text transform="translate(393.17 955.20) scale(0.9 1.04)" font-family='"DejaVu Sans", "Liberation Sans", sans-serif' font-size="14.0" font-weight="bold" text-anchor="middle" fill="#111" letter-spacing="-0.35">40</text>
<line x1="538.95" y1="931.40" x2="538.95" y2="923.40" stroke="#404040" stroke-width="1"/>
<line x1="538.95" y1="520.50" x2="538.95" y2="528.50" stroke="#404040" stroke-width="1"/>
<text transform="translate(538.85 955.20) scale(0.9 1.04)" font-family='"DejaVu Sans", "Liberation Sans", sans-serif' font-size="14.0" font-weight="bold" text-anchor="middle" fill="#111" letter-spacing="-0.35">60</text>
<line x1="684.63" y1="931.40" x2="684.63" y2="923.40" stroke="#404040" stroke-width="1"/>
<line x1="684.63" y1="520.50" x2="684.63" y2="528.50" stroke="#404040" stroke-width="1"/>
<text transform="translate(684.53 955.20) scale(0.9 1.04)" font-family='"DejaVu Sans", "Liberation Sans", sans-serif' font-size="14.0" font-weight="bold" text-anchor="middle" fill="#111" letter-spacing="-0.35">80</text>
<line x1="830.32" y1="931.40" x2="830.32" y2="923.40" stroke="#404040" stroke-width="1"/>
<line x1="830.32" y1="520.50" x2="830.32" y2="528.50" stroke="#404040" stroke-width="1"/>
<text transform="translate(830.22 955.20) scale(0.9 1.04)" font-family='"DejaVu Sans", "Liberation Sans", sans-serif' font-size="14.0" font-weight="bold" text-anchor="middle" fill="#111" letter-spacing="-0.35">100</text>
<text transform="translate(975.90 955.20) scale(0.9 1.04)" font-family='"DejaVu Sans", "Liberation Sans", sans-serif' font-size="14.0" font-weight="bold" text-anchor="middle" fill="#111" letter-spacing="-0.35">120</text>
<text transform="translate(93.70 526.80) scale(0.9 1.04)" font-family='"DejaVu Sans", "Liberation Sans", sans-serif' font-size="14.0" font-weight="bold" text-anchor="end" fill="#111" letter-spacing="-0.35">0.25</text>
<line x1="101.90" y1="571.86" x2="109.90" y2="571.86" stroke="#404040" stroke-width="1"/>
<line x1="976.00" y1="571.86" x2="968.00" y2="571.86" stroke="#404040" stroke-width="1"/>
<text transform="translate(93.70 578.16) scale(0.9 1.04)" font-family='"DejaVu Sans", "Liberation Sans", sans-serif' font-size="14.0" font-weight="bold" text-anchor="end" fill="#111" letter-spacing="-0.35">0.2</text>
<line x1="101.90" y1="623.23" x2="109.90" y2="623.23" stroke="#404040" stroke-width="1"/>
<line x1="976.00" y1="623.23" x2="968.00" y2="623.23" stroke="#404040" stroke-width="1"/>
<text transform="translate(93.70 629.52) scale(0.9 1.04)" font-family='"DejaVu Sans", "Liberation Sans", sans-serif' font-size="14.0" font-weight="bold" text-anchor="end" fill="#111" letter-spacing="-0.35">0.15</text>
<line x1="101.90" y1="674.59" x2="109.90" y2="674.59" stroke="#404040" stroke-width="1"/>
<line x1="976.00" y1="674.59" x2="968.00" y2="674.59" stroke="#404040" stroke-width="1"/>
<text transform="translate(93.70 680.89) scale(0.9 1.04)" font-family='"DejaVu Sans", "Liberation Sans", sans-serif' font-size="14.0" font-weight="bold" text-anchor="end" fill="#111" letter-spacing="-0.35">0.1</text>
<line x1="101.90" y1="725.95" x2="109.90" y2="725.95" stroke="#404040" stroke-width="1"/>
<line x1="976.00" y1="725.95" x2="968.00" y2="725.95" stroke="#404040" stroke-width="1"/>
<text transform="translate(93.70 732.25) scale(0.9 1.04)" font-family='"DejaVu Sans", "Liberation Sans", sans-serif' font-size="14.0" font-weight="bold" text-anchor="end" fill="#111" letter-spacing="-0.35">0.05</text>
<line x1="101.90" y1="777.31" x2="109.90" y2="777.31" stroke="#404040" stroke-width="1"/>
<line x1="976.00" y1="777.31" x2="968.00" y2="777.31" stroke="#404040" stroke-width="1"/>
<text transform="translate(93.70 783.61) scale(0.9 1.04)" font-family='"DejaVu Sans", "Liberation Sans", sans-serif' font-size="14.0" font-weight="bold" text-anchor="end" fill="#111" letter-spacing="-0.35">0</text>
<line x1="101.90" y1="828.67" x2="109.90" y2="828.67" stroke="#404040" stroke-width="1"/>
<line x1="976.00" y1="828.67" x2="968.00" y2="828.67" stroke="#404040" stroke-width="1"/>
<text transform="translate(93.70 834.97) scale(0.9 1.04)" font-family='"DejaVu Sans", "Liberation Sans", sans-serif' font-size="14.0" font-weight="bold" text-anchor="end" fill="#111" letter-spacing="-0.35">-<tspan dx="2.0">0.05</tspan></text>
<line x1="101.90" y1="880.04" x2="109.90" y2="880.04" stroke="#404040" stroke-width="1"/>
<line x1="976.00" y1="880.04" x2="968.00" y2="880.04" stroke="#404040" stroke-width="1"/>
<text transform="translate(93.70 886.34) scale(0.9 1.04)" font-family='"DejaVu Sans", "Liberation Sans", sans-serif' font-size="14.0" font-weight="bold" text-anchor="end" fill="#111" letter-spacing="-0.35">-<tspan dx="2.0">0.1</tspan></text>
<text transform="translate(93.70 937.70) scale(0.9 1.04)" font-family='"DejaVu Sans", "Liberation Sans", sans-serif' font-size="14.0" font-weight="bold" text-anchor="end" fill="#111" letter-spacing="-0.35">-<tspan dx="2.0">0.15</tspan></text>
<rect x="112.30" y="530.60" width="118.70" height="48.00" fill="#fff" stroke="#3a3a3a" stroke-width="1"/>
<rect x="118.90" y="534.70" width="33.50" height="16.90" fill="#f79b2a" stroke="#2b1c00" stroke-width="1" rx="0.7"/>
<rect x="118.90" y="556.60" width="33.50" height="16.70" fill="#1f1f13" stroke="#000" stroke-width="1" rx="0.7"/>
<text y="548.10" font-weight="bold" fill="#111"><tspan x="156.00" font-family='"Liberation Sans", sans-serif' font-size="16" textLength="10.40" lengthAdjust="spacingAndGlyphs" stroke="#111" stroke-width="0.7">P</tspan> <tspan x="171.90" font-family='"DejaVu Sans", "Liberation Sans", sans-serif' font-size="12.4" textLength="55.66" lengthAdjust="spacingAndGlyphs">&lt;= 0.05</tspan></text>
<text y="570.50" font-weight="bold" fill="#111"><tspan x="156.00" font-family='"Liberation Sans", sans-serif' font-size="16" textLength="10.40" lengthAdjust="spacingAndGlyphs" stroke="#111" stroke-width="0.7">P</tspan> <tspan x="171.90" font-family='"DejaVu Sans", "Liberation Sans", sans-serif' font-size="12.4" textLength="45.28" lengthAdjust="spacingAndGlyphs">&gt; 0.05</tspan></text>
<text x="46.30" y="809.60" transform="rotate(-90 46.30 809.60)" font-family='"Liberation Sans", sans-serif' font-size="22.3" font-weight="bold" text-anchor="start" fill="#111" textLength="169.40" lengthAdjust="spacingAndGlyphs" stroke="#111" stroke-width="0.12">Partial correlation</text>
<text y="981.20" font-weight="bold" fill="#111"><tspan x="454.60" font-family='"Liberation Sans", sans-serif' font-size="18" textLength="159.00" lengthAdjust="spacingAndGlyphs">Position in ORF</tspan><tspan x="613.80" font-family='"DejaVu Sans", "Liberation Sans", sans-serif' font-size="9.6" textLength="10.7" lengthAdjust="spacingAndGlyphs">1</tspan></text>
<text x="12.70" y="532.50" font-family='"Liberation Sans", sans-serif' font-size="42" font-weight="normal" text-anchor="start" fill="#1a1a1a" textLength="25.50" lengthAdjust="spacingAndGlyphs">C</text>
</g>
<g id="panelD">
<ellipse cx="1089.23" cy="550.22" rx="3.85" ry="3.5" fill="#000"/>
<ellipse cx="1089.23" cy="567.58" rx="3.85" ry="3.5" fill="#000"/>
<ellipse cx="1089.23" cy="600.68" rx="3.85" ry="3.5" fill="#000"/>
<ellipse cx="1089.23" cy="680.07" rx="3.85" ry="3.5" fill="#000"/>
<ellipse cx="1119.11" cy="550.22" rx="3.85" ry="3.5" fill="#000"/>
<ellipse cx="1119.11" cy="553.28" rx="3.85" ry="3.5" fill="#000"/>
<ellipse cx="1119.11" cy="572.08" rx="3.85" ry="3.5" fill="#000"/>
<ellipse cx="1119.11" cy="616.91" rx="3.85" ry="3.5" fill="#000"/>
<ellipse cx="1119.11" cy="636.04" rx="3.85" ry="3.5" fill="#000"/>
<ellipse cx="1119.11" cy="684.09" rx="3.85" ry="3.5" fill="#000"/>
<ellipse cx="1134.04" cy="550.22" rx="3.85" ry="3.5" fill="#000"/>
<ellipse cx="1134.04" cy="564.85" rx="3.85" ry="3.5" fill="#000"/>
<ellipse cx="1134.04" cy="598.11" rx="3.85" ry="3.5" fill="#000"/>
<ellipse cx="1134.04" cy="621.90" rx="3.85" ry="3.5" fill="#000"/>
<ellipse cx="1134.04" cy="788.70" rx="3.85" ry="3.5" fill="#000"/>
<ellipse cx="1148.97" cy="550.22" rx="3.85" ry="3.5" fill="#000"/>
<ellipse cx="1148.97" cy="554.40" rx="3.85" ry="3.5" fill="#000"/>
<ellipse cx="1148.97" cy="570.95" rx="3.85" ry="3.5" fill="#000"/>
<ellipse cx="1148.97" cy="601.81" rx="3.85" ry="3.5" fill="#000"/>
<ellipse cx="1148.97" cy="622.38" rx="3.85" ry="3.5" fill="#000"/>
<ellipse cx="1148.97" cy="645.52" rx="3.85" ry="3.5" fill="#000"/>
<ellipse cx="1148.97" cy="655.80" rx="3.85" ry="3.5" fill="#000"/>
<ellipse cx="1163.91" cy="550.22" rx="3.85" ry="3.5" fill="#000"/>
<ellipse cx="1178.85" cy="550.22" rx="3.85" ry="3.5" fill="#000"/>
<ellipse cx="1178.85" cy="556.81" rx="3.85" ry="3.5" fill="#000"/>
<ellipse cx="1178.85" cy="574.49" rx="3.85" ry="3.5" fill="#000"/>
<ellipse cx="1178.85" cy="581.40" rx="3.85" ry="3.5" fill="#000"/>
<ellipse cx="1178.85" cy="584.45" rx="3.85" ry="3.5" fill="#000"/>
<ellipse cx="1178.85" cy="621.90" rx="3.85" ry="3.5" fill="#000"/>
<ellipse cx="1193.78" cy="550.22" rx="3.85" ry="3.5" fill="#000"/>
<ellipse cx="1193.78" cy="584.45" rx="3.85" ry="3.5" fill="#000"/>
<ellipse cx="1208.71" cy="551.19" rx="3.85" ry="3.5" fill="#000"/>
<ellipse cx="1223.65" cy="550.22" rx="3.85" ry="3.5" fill="#000"/>
<ellipse cx="1223.65" cy="554.72" rx="3.85" ry="3.5" fill="#000"/>
<ellipse cx="1223.65" cy="562.92" rx="3.85" ry="3.5" fill="#000"/>
<ellipse cx="1223.65" cy="575.13" rx="3.85" ry="3.5" fill="#000"/>
<ellipse cx="1223.65" cy="578.83" rx="3.85" ry="3.5" fill="#000"/>
<ellipse cx="1223.65" cy="582.52" rx="3.85" ry="3.5" fill="#000"/>
<ellipse cx="1223.65" cy="586.38" rx="3.85" ry="3.5" fill="#000"/>
<ellipse cx="1223.65" cy="622.86" rx="3.85" ry="3.5" fill="#000"/>
<ellipse cx="1223.65" cy="633.14" rx="3.85" ry="3.5" fill="#000"/>
<ellipse cx="1223.65" cy="645.04" rx="3.85" ry="3.5" fill="#000"/>
<ellipse cx="1223.65" cy="772.95" rx="3.85" ry="3.5" fill="#000"/>
<ellipse cx="1238.59" cy="551.19" rx="3.85" ry="3.5" fill="#000"/>
<ellipse cx="1253.52" cy="550.22" rx="3.85" ry="3.5" fill="#000"/>
<ellipse cx="1253.52" cy="553.92" rx="3.85" ry="3.5" fill="#000"/>
<ellipse cx="1253.52" cy="556.33" rx="3.85" ry="3.5" fill="#000"/>
<ellipse cx="1253.52" cy="566.13" rx="3.85" ry="3.5" fill="#000"/>
<ellipse cx="1253.52" cy="584.45" rx="3.85" ry="3.5" fill="#000"/>
<ellipse cx="1253.52" cy="622.38" rx="3.85" ry="3.5" fill="#000"/>
<ellipse cx="1253.52" cy="633.14" rx="3.85" ry="3.5" fill="#000"/>
<ellipse cx="1253.52" cy="658.54" rx="3.85" ry="3.5" fill="#000"/>
<ellipse cx="1253.52" cy="853.79" rx="3.85" ry="3.5" fill="#000"/>
<ellipse cx="1268.45" cy="684.57" rx="3.85" ry="3.5" fill="#000"/>
<ellipse cx="1283.39" cy="550.22" rx="3.85" ry="3.5" fill="#000"/>
<ellipse cx="1283.39" cy="626.07" rx="3.85" ry="3.5" fill="#000"/>
<ellipse cx="1283.39" cy="646.64" rx="3.85" ry="3.5" fill="#000"/>
<ellipse cx="1298.32" cy="553.12" rx="3.85" ry="3.5" fill="#000"/>
<ellipse cx="1313.26" cy="550.22" rx="3.85" ry="3.5" fill="#000"/>
<ellipse cx="1313.26" cy="568.38" rx="3.85" ry="3.5" fill="#000"/>
<ellipse cx="1313.26" cy="580.11" rx="3.85" ry="3.5" fill="#000"/>
<ellipse cx="1313.26" cy="738.08" rx="3.85" ry="3.5" fill="#000"/>
<ellipse cx="1343.13" cy="550.22" rx="3.85" ry="3.5" fill="#000"/>
<ellipse cx="1343.13" cy="567.58" rx="3.85" ry="3.5" fill="#000"/>
<ellipse cx="1358.07" cy="550.22" rx="3.85" ry="3.5" fill="#000"/>
<ellipse cx="1358.07" cy="573.69" rx="3.85" ry="3.5" fill="#000"/>
<ellipse cx="1358.07" cy="643.11" rx="3.85" ry="3.5" fill="#000"/>
<ellipse cx="1387.93" cy="550.22" rx="3.85" ry="3.5" fill="#000"/>
<ellipse cx="1387.93" cy="553.12" rx="3.85" ry="3.5" fill="#000"/>
<ellipse cx="1402.87" cy="550.22" rx="3.85" ry="3.5" fill="#000"/>
<ellipse cx="1402.87" cy="553.12" rx="3.85" ry="3.5" fill="#000"/>
<ellipse cx="1402.87" cy="556.33" rx="3.85" ry="3.5" fill="#000"/>
<ellipse cx="1402.87" cy="559.38" rx="3.85" ry="3.5" fill="#000"/>
<ellipse cx="1402.87" cy="561.63" rx="3.85" ry="3.5" fill="#000"/>
<ellipse cx="1402.87" cy="576.90" rx="3.85" ry="3.5" fill="#000"/>
<ellipse cx="1402.87" cy="579.63" rx="3.85" ry="3.5" fill="#000"/>
<ellipse cx="1402.87" cy="601.81" rx="3.85" ry="3.5" fill="#000"/>
<ellipse cx="1402.87" cy="607.59" rx="3.85" ry="3.5" fill="#000"/>
<ellipse cx="1402.87" cy="617.56" rx="3.85" ry="3.5" fill="#000"/>
<ellipse cx="1402.87" cy="621.41" rx="3.85" ry="3.5" fill="#000"/>
<ellipse cx="1402.87" cy="638.13" rx="3.85" ry="3.5" fill="#000"/>
<ellipse cx="1402.87" cy="649.86" rx="3.85" ry="3.5" fill="#000"/>
<ellipse cx="1417.80" cy="550.22" rx="3.85" ry="3.5" fill="#000"/>
<ellipse cx="1462.61" cy="550.22" rx="3.85" ry="3.5" fill="#000"/>
<ellipse cx="1462.61" cy="553.12" rx="3.85" ry="3.5" fill="#000"/>
<ellipse cx="1462.61" cy="561.63" rx="3.85" ry="3.5" fill="#000"/>
<ellipse cx="1477.55" cy="570.95" rx="3.85" ry="3.5" fill="#000"/>
<ellipse cx="1477.55" cy="602.29" rx="3.85" ry="3.5" fill="#000"/>
<ellipse cx="1492.48" cy="552.63" rx="3.85" ry="3.5" fill="#000"/>
<ellipse cx="1492.48" cy="558.10" rx="3.85" ry="3.5" fill="#000"/>
<ellipse cx="1492.48" cy="563.88" rx="3.85" ry="3.5" fill="#000"/>
<ellipse cx="1492.48" cy="574.49" rx="3.85" ry="3.5" fill="#000"/>
<ellipse cx="1492.48" cy="677.02" rx="3.85" ry="3.5" fill="#000"/>
<ellipse cx="1492.48" cy="743.06" rx="3.85" ry="3.5" fill="#000"/>
<ellipse cx="1507.41" cy="550.22" rx="3.85" ry="3.5" fill="#000"/>
<ellipse cx="1507.41" cy="554.40" rx="3.85" ry="3.5" fill="#000"/>
<ellipse cx="1507.41" cy="558.90" rx="3.85" ry="3.5" fill="#000"/>
<ellipse cx="1507.41" cy="563.40" rx="3.85" ry="3.5" fill="#000"/>
<ellipse cx="1507.41" cy="570.95" rx="3.85" ry="3.5" fill="#000"/>
<ellipse cx="1507.41" cy="636.04" rx="3.85" ry="3.5" fill="#000"/>
<ellipse cx="1522.35" cy="615.63" rx="3.85" ry="3.5" fill="#000"/>
<ellipse cx="1597.03" cy="550.22" rx="3.85" ry="3.5" fill="#000"/>
<ellipse cx="1611.96" cy="550.22" rx="3.85" ry="3.5" fill="#000"/>
<ellipse cx="1611.96" cy="591.68" rx="3.85" ry="3.5" fill="#000"/>
<ellipse cx="1671.70" cy="550.22" rx="3.85" ry="3.5" fill="#000"/>
<ellipse cx="1671.70" cy="564.69" rx="3.85" ry="3.5" fill="#000"/>
<ellipse cx="1686.63" cy="550.22" rx="3.85" ry="3.5" fill="#000"/>
<ellipse cx="1686.63" cy="553.12" rx="3.85" ry="3.5" fill="#000"/>
<ellipse cx="1716.50" cy="550.22" rx="3.85" ry="3.5" fill="#000"/>
<ellipse cx="1716.50" cy="574.65" rx="3.85" ry="3.5" fill="#000"/>
<ellipse cx="1761.31" cy="550.22" rx="3.85" ry="3.5" fill="#000"/>
<ellipse cx="1910.66" cy="569.67" rx="3.85" ry="3.5" fill="#000"/>
<ellipse cx="1074.20" cy="550.50" rx="3.85" ry="3.5" fill="#000"/>
<ellipse cx="1074.20" cy="553.50" rx="3.85" ry="3.5" fill="#000"/>
<ellipse cx="1074.20" cy="556.50" rx="3.85" ry="3.5" fill="#000"/>
<ellipse cx="1074.20" cy="559.50" rx="3.85" ry="3.5" fill="#000"/>
<ellipse cx="1074.20" cy="562.50" rx="3.85" ry="3.5" fill="#000"/>
<ellipse cx="1074.20" cy="565.50" rx="3.85" ry="3.5" fill="#000"/>
<ellipse cx="1074.20" cy="568.50" rx="3.85" ry="3.5" fill="#000"/>
<ellipse cx="1074.20" cy="571.50" rx="3.85" ry="3.5" fill="#000"/>
<ellipse cx="1074.20" cy="574.50" rx="3.85" ry="3.5" fill="#000"/>
<ellipse cx="1074.20" cy="577.50" rx="3.85" ry="3.5" fill="#000"/>
<ellipse cx="1074.20" cy="580.50" rx="3.85" ry="3.5" fill="#000"/>
<ellipse cx="1074.20" cy="583.50" rx="3.85" ry="3.5" fill="#000"/>
<ellipse cx="1074.20" cy="586.50" rx="3.85" ry="3.5" fill="#000"/>
<ellipse cx="1074.20" cy="589.50" rx="3.85" ry="3.5" fill="#000"/>
<ellipse cx="1074.20" cy="592.50" rx="3.85" ry="3.5" fill="#000"/>
<ellipse cx="1074.20" cy="595.50" rx="3.85" ry="3.5" fill="#000"/>
<ellipse cx="1074.20" cy="598.50" rx="3.85" ry="3.5" fill="#000"/>
<ellipse cx="1074.20" cy="601.00" rx="3.85" ry="3.5" fill="#000"/>
<ellipse cx="1074.20" cy="606.00" rx="3.85" ry="3.5" fill="#000"/>
<ellipse cx="1074.20" cy="609.00" rx="3.85" ry="3.5" fill="#000"/>
<ellipse cx="1074.20" cy="612.00" rx="3.85" ry="3.5" fill="#000"/>
<ellipse cx="1074.20" cy="615.00" rx="3.85" ry="3.5" fill="#000"/>
<ellipse cx="1074.20" cy="618.00" rx="3.85" ry="3.5" fill="#000"/>
<ellipse cx="1074.20" cy="624.20" rx="3.85" ry="3.5" fill="#000"/>
<ellipse cx="1074.20" cy="636.00" rx="3.85" ry="3.5" fill="#000"/>
<ellipse cx="1074.20" cy="641.20" rx="3.85" ry="3.5" fill="#000"/>
<ellipse cx="1074.20" cy="646.00" rx="3.85" ry="3.5" fill="#000"/>
<ellipse cx="1074.20" cy="650.60" rx="3.85" ry="3.5" fill="#000"/>
<ellipse cx="1074.20" cy="668.60" rx="3.85" ry="3.5" fill="#000"/>
<ellipse cx="1074.20" cy="681.00" rx="3.85" ry="3.5" fill="#000"/>
<ellipse cx="1074.20" cy="702.10" rx="3.85" ry="3.5" fill="#000"/>
<ellipse cx="1074.20" cy="708.30" rx="3.85" ry="3.5" fill="#000"/>
<ellipse cx="1074.20" cy="742.40" rx="3.85" ry="3.5" fill="#000"/>
<ellipse cx="1074.20" cy="908.90" rx="3.85" ry="3.5" fill="#000"/>
<ellipse cx="1209.41" cy="551.67" rx="3.85" ry="3.5" fill="#000"/>
<ellipse cx="1239.29" cy="551.67" rx="3.85" ry="3.5" fill="#000"/>
<line x1="1075.80" y1="593.60" x2="1969.50" y2="553.70" stroke="#b4b4b2" stroke-width="2.8"/>
<line x1="1074.50" y1="530.25" x2="1074.50" y2="933.00" stroke="#2a2a2a" stroke-width="1"/>
<line x1="1074.00" y1="932.50" x2="1970.00" y2="932.50" stroke="#2a2a2a" stroke-width="1"/>
<text transform="translate(1074.20 956.00) scale(0.9 1.04)" font-family='"DejaVu Sans", "Liberation Sans", sans-serif' font-size="14.0" font-weight="bold" text-anchor="middle" fill="#111" letter-spacing="-0.35">0</text>
<line x1="1223.67" y1="932.50" x2="1223.67" y2="924.20" stroke="#2a2a2a" stroke-width="1"/>
<text transform="translate(1223.37 956.00) scale(0.9 1.04)" font-family='"DejaVu Sans", "Liberation Sans", sans-serif' font-size="14.0" font-weight="bold" text-anchor="middle" fill="#111" letter-spacing="-0.35">1</text>
<line x1="1372.83" y1="932.50" x2="1372.83" y2="924.20" stroke="#2a2a2a" stroke-width="1"/>
<text transform="translate(1372.53 956.00) scale(0.9 1.04)" font-family='"DejaVu Sans", "Liberation Sans", sans-serif' font-size="14.0" font-weight="bold" text-anchor="middle" fill="#111" letter-spacing="-0.35">2</text>
<line x1="1522.00" y1="932.50" x2="1522.00" y2="924.20" stroke="#2a2a2a" stroke-width="1"/>
<text transform="translate(1521.70 956.00) scale(0.9 1.04)" font-family='"DejaVu Sans", "Liberation Sans", sans-serif' font-size="14.0" font-weight="bold" text-anchor="middle" fill="#111" letter-spacing="-0.35">3</text>
<line x1="1671.17" y1="932.50" x2="1671.17" y2="924.20" stroke="#2a2a2a" stroke-width="1"/>
<text transform="translate(1670.87 956.00) scale(0.9 1.04)" font-family='"DejaVu Sans", "Liberation Sans", sans-serif' font-size="14.0" font-weight="bold" text-anchor="middle" fill="#111" letter-spacing="-0.35">4</text>
<line x1="1820.33" y1="932.50" x2="1820.33" y2="924.20" stroke="#2a2a2a" stroke-width="1"/>
<text transform="translate(1820.03 956.00) scale(0.9 1.04)" font-family='"DejaVu Sans", "Liberation Sans", sans-serif' font-size="14.0" font-weight="bold" text-anchor="middle" fill="#111" letter-spacing="-0.35">5</text>
<line x1="1969.50" y1="932.50" x2="1969.50" y2="924.20" stroke="#2a2a2a" stroke-width="1"/>
<text transform="translate(1969.20 956.00) scale(0.9 1.04)" font-family='"DejaVu Sans", "Liberation Sans", sans-serif' font-size="14.0" font-weight="bold" text-anchor="middle" fill="#111" letter-spacing="-0.35">6</text>
<line x1="1074.50" y1="530.75" x2="1082.80" y2="530.75" stroke="#2a2a2a" stroke-width="1"/>
<text transform="translate(1067.30 537.15) scale(0.9 1.04)" font-family='"DejaVu Sans", "Liberation Sans", sans-serif' font-size="14.0" font-weight="bold" text-anchor="end" fill="#111" letter-spacing="-0.35">5</text>
<line x1="1074.50" y1="611.10" x2="1082.80" y2="611.10" stroke="#2a2a2a" stroke-width="1"/>
<text transform="translate(1067.30 617.50) scale(0.9 1.04)" font-family='"DejaVu Sans", "Liberation Sans", sans-serif' font-size="14.0" font-weight="bold" text-anchor="end" fill="#111" letter-spacing="-0.35">0</text>
<line x1="1074.50" y1="691.45" x2="1082.80" y2="691.45" stroke="#2a2a2a" stroke-width="1"/>
<text transform="translate(1067.30 697.85) scale(0.9 1.04)" font-family='"DejaVu Sans", "Liberation Sans", sans-serif' font-size="14.0" font-weight="bold" text-anchor="end" fill="#111" letter-spacing="-0.35">-<tspan dx="2.0">5</tspan></text>
<line x1="1074.50" y1="771.80" x2="1082.80" y2="771.80" stroke="#2a2a2a" stroke-width="1"/>
<text transform="translate(1067.30 778.20) scale(0.9 1.04)" font-family='"DejaVu Sans", "Liberation Sans", sans-serif' font-size="14.0" font-weight="bold" text-anchor="end" fill="#111" letter-spacing="-0.35">-<tspan dx="2.0">10</tspan></text>
<line x1="1074.50" y1="852.15" x2="1082.80" y2="852.15" stroke="#2a2a2a" stroke-width="1"/>
<text transform="translate(1067.30 858.55) scale(0.9 1.04)" font-family='"DejaVu Sans", "Liberation Sans", sans-serif' font-size="14.0" font-weight="bold" text-anchor="end" fill="#111" letter-spacing="-0.35">-<tspan dx="2.0">15</tspan></text>
<text transform="translate(1067.30 938.90) scale(0.9 1.04)" font-family='"DejaVu Sans", "Liberation Sans", sans-serif' font-size="14.0" font-weight="bold" text-anchor="end" fill="#111" letter-spacing="-0.35">-<tspan dx="2.0">20</tspan></text>
<text x="1033.20" y="935.30" transform="rotate(-90 1033.20 935.30)" font-family='"Liberation Sans", sans-serif' font-size="22.3" font-weight="bold" text-anchor="start" fill="#111" textLength="410.40" lengthAdjust="spacingAndGlyphs" stroke="#111" stroke-width="0.12">Normalized fitness differences of sequences</text>
<text y="981.00" font-weight="bold" fill="#111"><tspan x="1305.80" font-family='"Liberation Sans", sans-serif' font-size="18" textLength="408.60" lengthAdjust="spacingAndGlyphs">FE differences of sequences in position</tspan> <tspan x="1719.20" font-family='"DejaVu Sans", "Liberation Sans", sans-serif' font-size="15.2" textLength="19.80" lengthAdjust="spacingAndGlyphs">37</tspan></text>
<text x="1973.40" y="540.40" font-family='"Liberation Sans", sans-serif' font-size="42" font-weight="normal" text-anchor="start" fill="#1a1a1a" textLength="30.40" lengthAdjust="spacingAndGlyphs">D</text>
</g>
</svg>
</body>
</html>
